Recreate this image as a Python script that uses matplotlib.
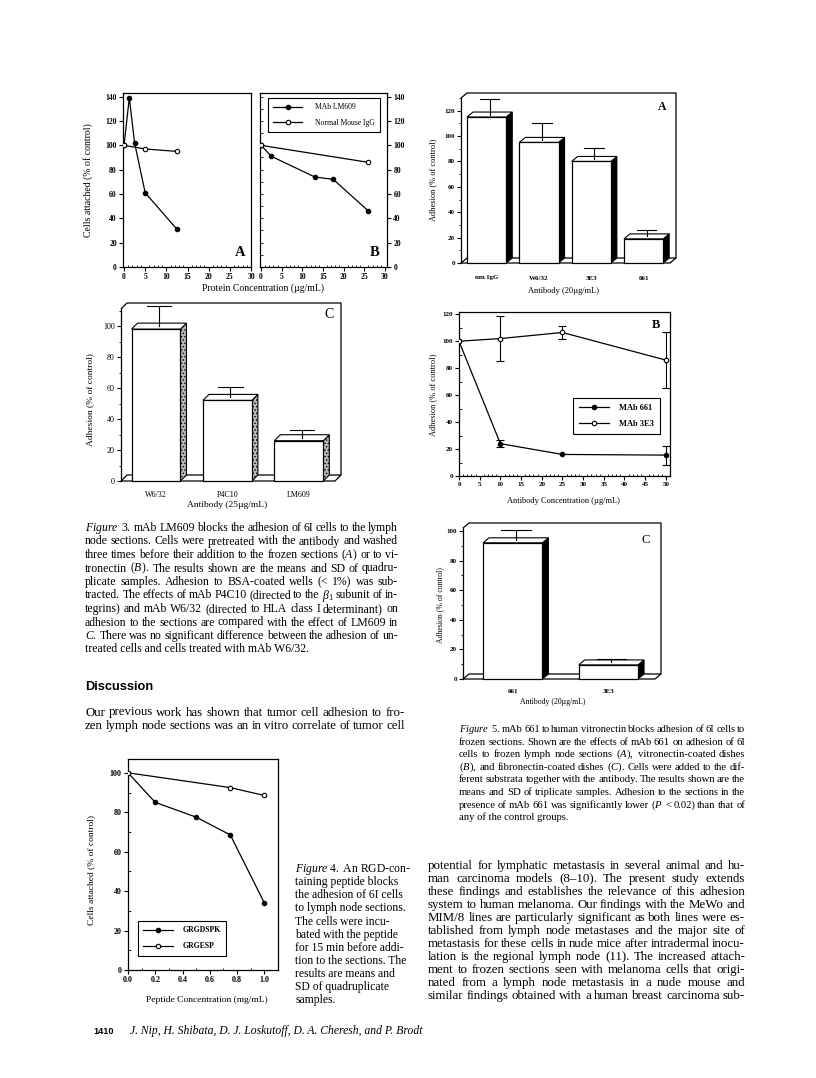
import matplotlib
matplotlib.use("Agg")
import matplotlib.pyplot as plt
import numpy as np
from matplotlib.patches import Polygon, Rectangle
from matplotlib.ticker import MultipleLocator, FormatStrFormatter

W, H = 816, 1078

plt.rcParams["font.family"] = ["Liberation Serif", "DejaVu Serif"]
plt.rcParams["mathtext.fontset"] = "custom"
plt.rcParams["mathtext.rm"] = "Liberation Serif"
plt.rcParams["mathtext.it"] = "Liberation Serif:italic"
plt.rcParams["mathtext.bf"] = "Liberation Serif:bold"
plt.rcParams["hatch.linewidth"] = 0.6

# ---- Figure 3A / 3B: cells attached vs protein concentration
fig3a_conc_lm609 = [0, 1.25, 2.5, 5, 12.5]
fig3a_lm609 = [100, 139, 102, 61, 31]
fig3a_conc_igg = [0, 5, 12.5]
fig3a_igg = [100, 97, 95]
fig3b_conc_lm609 = [0, 2.5, 13, 17.5, 26]
fig3b_lm609 = [100, 91, 74, 72, 46]
fig3b_conc_igg = [0, 26]
fig3b_igg = [100, 86]

# ---- Figure 3C: adhesion bars
fig3c_labels = ["W6/32", "P4C10", "LM609"]
fig3c_mean = [98, 52, 26]
fig3c_sd = [13, 7, 5]

# ---- Figure 5A: adhesion bars
fig5a_labels = ["nm IgG", "W6/32", "3E3", "661"]
fig5a_mean = [115, 95, 80, 19]
fig5a_sd = [12, 13, 9, 5]

# ---- Figure 5B: adhesion vs antibody concentration
fig5b_conc = [0, 10, 25, 50]
fig5b_661 = [100, 24, 16, 15.5]
fig5b_661_sd = [0, 2.5, 0, 7]
fig5b_3e3 = [100, 102, 106.5, 86]
fig5b_3e3_sd = [0, 17, 5, 21]

# ---- Figure 5C: adhesion bars
fig5c_labels = ["661", "3E3"]
fig5c_mean = [92, 9.5]
fig5c_sd = [7, 2.6]

# ---- Figure 4: cells attached vs peptide concentration
fig4_conc_rgd = [0, 0.2, 0.5, 0.75, 1.0]
fig4_rgd = [100, 85, 77.5, 68.5, 34]
fig4_conc_rge = [0, 0.75, 1.0]
fig4_rge = [100, 92.5, 88.5]

fig3_caption = [
    "$\\mathit{Figure}$ $\\mathit{3.}$ mAb LM609 blocks the adhesion of 6I cells to the lymph",
    "node sections. Cells were pretreated with the antibody and washed",
    "three times before their addition to the frozen sections ($\\mathit{A}$) or to vi-",
    "tronectin ($\\mathit{B}$). The results shown are the means and SD of quadru-",
    "plicate samples. Adhesion to BSA-coated wells (< 1%) was sub-",
    "tracted. The effects of mAb P4C10 (directed to the $\\mathit{\\beta}_1$ subunit of in-",
    "tegrins) and mAb W6/32 (directed to HLA class I determinant) on",
    "adhesion to the sections are compared with the effect of LM609 in",
    "$\\mathit{C}$. There was no significant difference between the adhesion of un-",
    "treated cells and cells treated with mAb W6/32.",
]
left_body = [
    "Our previous work has shown that tumor cell adhesion to fro-",
    "zen lymph node sections was an in vitro correlate of tumor cell",
]
fig5_caption = [
    "$\\mathit{Figure}$ $\\mathit{5.}$ mAb 661 to human vitronectin blocks adhesion of 6I cells to",
    "frozen sections. Shown are the effects of mAb 661 on adhesion of 6I",
    "cells to frozen lymph node sections ($\\mathit{A}$), vitronectin-coated dishes",
    "($\\mathit{B}$), and fibronectin-coated dishes ($\\mathit{C}$). Cells were added to the dif-",
    "ferent substrata together with the antibody. The results shown are the",
    "means and SD of triplicate samples. Adhesion to the sections in the",
    "presence of mAb 661 was significantly lower ($\\mathit{P}$ < 0.02) than that of",
    "any of the control groups.",
]
fig4_caption = [
    "$\\mathit{Figure}$ $\\mathit{4.}$ An RGD-con-",
    "taining peptide blocks",
    "the adhesion of 6I cells",
    "to lymph node sections.",
    "The cells were incu-",
    "bated with the peptide",
    "for 15 min before addi-",
    "tion to the sections. The",
    "results are means and",
    "SD of quadruplicate",
    "samples.",
]
right_body = [
    "potential for lymphatic metastasis in several animal and hu-",
    "man carcinoma models (8\u201310). The present study extends",
    "these findings and establishes the relevance of this adhesion",
    "system to human melanoma. Our findings with the MeWo and",
    "MIM/8 lines are particularly significant as both lines were es-",
    "tablished from lymph node metastases and the major site of",
    "metastasis for these cells in nude mice after intradermal inocu-",
    "lation is the regional lymph node (11). The increased attach-",
    "ment to frozen sections seen with melanoma cells that origi-",
    "nated from a lymph node metastasis in a nude mouse and",
    "similar findings obtained with a human breast carcinoma sub-",
]

fig = plt.figure(figsize=(W / 100, H / 100), dpi=100)
renderer = fig.canvas.get_renderer()


def add_axes_px(left, top, right, bottom):
    return fig.add_axes([left / W, 1 - bottom / H, (right - left) / W, (bottom - top) / H])


def fig_text(x, y, s, **kw):
    return fig.text(x / W, 1 - y / H, s, **kw)


def text_block(lines, x0, x1, y0, dy, size, justify=True, last_justified=False, **kw):
    for i, line in enumerate(lines):
        y = y0 + i * dy
        is_last = i == len(lines) - 1
        words = line.split(" ")
        if not justify or (is_last and not last_justified) or len(words) < 2:
            fig_text(x0, y, line, fontsize=size, va="baseline", **kw)
            continue
        fs = size
        texts = [fig_text(0, y, w, fontsize=fs, va="baseline", **kw) for w in words]
        widths = [t.get_window_extent(renderer).width for t in texts]
        gap = (x1 - x0 - sum(widths)) / (len(words) - 1)
        if gap < 1.8:
            fs = size * (x1 - x0 - 1.8 * (len(words) - 1)) / sum(widths)
            for t in texts:
                t.set_fontsize(fs)
            widths = [t.get_window_extent(renderer).width for t in texts]
            gap = (x1 - x0 - sum(widths)) / (len(words) - 1)
        x = x0
        for t, w in zip(texts, widths):
            t.set_x(x / W)
            x += w + gap


def line_style(ax, xmaj, xmin, ymaj, ymin, labelsize=5.5):
    ax.xaxis.set_major_locator(MultipleLocator(xmaj))
    ax.xaxis.set_minor_locator(MultipleLocator(xmin))
    ax.yaxis.set_major_locator(MultipleLocator(ymaj))
    ax.yaxis.set_minor_locator(MultipleLocator(ymin))
    ax.tick_params(which="major", direction="out", length=3, width=0.8,
                   labelsize=labelsize, pad=1.5)
    ax.tick_params(which="minor", direction="in", length=1.8, width=0.6)
    for sp in ax.spines.values():
        sp.set_linewidth(0.9)


def bold_ticks(ax):
    plt.setp(ax.get_xticklabels() + ax.get_yticklabels(), fontweight="bold")


def series(ax, x, y, filled, label=None):
    ax.plot(x, y, "-o", color="black", lw=0.9, ms=3.2,
            mfc="black" if filled else "white", mec="black", mew=0.8,
            label=label, zorder=3)


def legend_px(ax, x, y, size, weight="normal", hl=3.6, tp=1.4):
    leg = ax.legend(loc="upper left", bbox_to_anchor=(x / W, 1 - y / H),
                    bbox_transform=fig.transFigure, frameon=True, fancybox=False,
                    edgecolor="black", framealpha=1, borderaxespad=0,
                    borderpad=0.7, labelspacing=1.0, handlelength=hl,
                    handletextpad=tp, numpoints=1,
                    prop={"size": size, "weight": weight})
    leg.get_frame().set_linewidth(0.8)
    return leg


def bar3d(box, xlim, ylim, depth, labels, means, sds, side, labelsize, bold,
          xpad):
    left, top, right, bottom = box
    ax = add_axes_px(left, top, right, bottom)
    ax.set_xlim(xlim)
    ax.set_ylim(ylim)
    dx = depth[0] * (xlim[1] - xlim[0]) / (right - left)
    dy = depth[1] * (ylim[1] - ylim[0]) / (bottom - top)
    for s in ["top", "right", "bottom"]:
        ax.spines[s].set_visible(False)
    ax.spines["left"].set_linewidth(0.9)
    x0, x1 = xlim
    yt = ylim[1]
    kw = dict(color="black", lw=0.9, clip_on=False, solid_capstyle="butt")
    ax.plot([x0, x0 + dx, x1, x1], [yt, yt + dy, yt + dy, dy], **kw)
    ax.plot([x0, x1 - dx, x1, x0 + dx, x0], [0, 0, dy, dy, 0], **kw)
    pos = np.arange(len(labels))
    width = 0.75 if len(labels) == 4 else (0.685 if len(labels) == 3 else 0.62)
    for p, v, e in zip(pos, means, sds):
        xl, xr = p - width / 2, p + width / 2
        ax.add_patch(Polygon([(xr, 0), (xr + dx, dy), (xr + dx, v + dy), (xr, v)],
                             closed=True, lw=0.8, clip_on=False, zorder=3, **side))
        ax.add_patch(Polygon([(xl, v), (xl + dx, v + dy), (xr + dx, v + dy), (xr, v)],
                             closed=True, fc="white", ec="black", lw=0.8,
                             clip_on=False, zorder=3))
        ax.add_patch(Rectangle((xl, 0), width, v, fc="white", ec="black", lw=0.9,
                               clip_on=False, zorder=4))
        ex = p + dx / 2
        ax.plot([ex, ex], [v + dy / 2, v + dy / 2 + e], color="black", lw=0.8,
                clip_on=False, zorder=5)
        ax.plot([ex - width / 4, ex + width / 4], [v + dy / 2 + e] * 2,
                color="black", lw=0.8, clip_on=False, zorder=5)
    ax.set_xticks(pos, labels)
    ax.tick_params(axis="x", length=0, pad=xpad, labelsize=labelsize)
    ax.yaxis.set_major_locator(MultipleLocator(20))
    ax.yaxis.set_minor_locator(MultipleLocator(10))
    ax.tick_params(axis="y", which="major", direction="out", length=3, width=0.8,
                   labelsize=labelsize, pad=1.5)
    ax.tick_params(axis="y", which="minor", direction="out", length=1.5, width=0.6)
    if bold:
        bold_ticks(ax)
    return ax


# ================= Figure 3A =================
ax = add_axes_px(123, 93, 251, 267)
series(ax, fig3a_conc_lm609, fig3a_lm609, True)
series(ax, fig3a_conc_igg, fig3a_igg, False)
ax.set_xlim(-0.24, 30)
ax.set_ylim(0, 143)
line_style(ax, 5, 1, 20, 10)
ax.tick_params(axis="y", which="minor", left=False)
bold_ticks(ax)
fig_text(240, 253, "A", fontsize=10.5, fontweight="bold", ha="center", va="center")

# ================= Figure 3B =================
ax = add_axes_px(260, 93, 387, 267)
series(ax, fig3b_conc_lm609, fig3b_lm609, True, "MAb LM609")
series(ax, fig3b_conc_igg, fig3b_igg, False, "Normal Mouse IgG")
ax.set_xlim(-0.24, 30.5)
ax.set_ylim(0, 143)
line_style(ax, 5, 1, 20, 10)
ax.yaxis.set_remove_overlapping_locs(False)
ax.tick_params(axis="y", which="major", left=False, right=True,
               labelleft=False, labelright=True)
ax.tick_params(axis="y", which="minor", left=True, right=False, length=2)
bold_ticks(ax)
legend_px(ax, 268, 98, 5.5, hl=3.8, tp=1.6)
fig_text(375, 253, "B", fontsize=10.5, fontweight="bold", ha="center", va="center")

fig_text(88, 180, "Cells attached (% of control)", fontsize=7, rotation=90,
         ha="center", va="center")
fig_text(263, 288, "Protein Concentration (\u00b5g/mL)", fontsize=7,
         ha="center", va="center")

# ================= Figure 5A =================
ax = bar3d((461, 98, 676, 263), (-0.49, 3.62), (0, 130), (6, 5),
           fig5a_labels, fig5a_mean, fig5a_sd,
           dict(fc="black", ec="black"), 5, True, 9)
fig_text(662, 107, "A", fontsize=8.5, fontweight="bold", ha="center", va="center")
fig_text(433, 180, "Adhesion (% of control)", fontsize=6, rotation=90,
         ha="center", va="center")
fig_text(563, 291, "Antibody (20\u00b5g/mL)", fontsize=6, ha="center", va="center")

# ================= Figure 3C =================
ax = bar3d((121, 309, 341, 481), (-0.49, 2.59), (0, 111), (6, 6),
           fig3c_labels, fig3c_mean, fig3c_sd,
           dict(fc="#b8b8b8", ec="black", hatch="....."), 5.8, False, 7)
fig_text(329, 315, "C", fontsize=10, ha="center", va="center")
fig_text(90, 400, "Adhesion (% of control)", fontsize=6.8, rotation=90,
         ha="center", va="center")
fig_text(227, 505, "Antibody (25\u00b5g/mL)", fontsize=6.8, ha="center", va="center")

# ================= Figure 5B =================
ax = add_axes_px(459, 312, 670, 476)
b661 = np.array(fig5b_661_sd) > 0
b3e3 = np.array(fig5b_3e3_sd) > 0
series(ax, fig5b_conc, fig5b_661, True, "MAb 661")
series(ax, fig5b_conc, fig5b_3e3, False, "MAb 3E3")
ax.errorbar(np.array(fig5b_conc)[b661], np.array(fig5b_661)[b661],
            yerr=np.array(fig5b_661_sd)[b661], fmt="none", ecolor="black",
            elinewidth=0.8, capsize=2.8, capthick=0.8, zorder=2)
ax.errorbar(np.array(fig5b_conc)[b3e3], np.array(fig5b_3e3)[b3e3],
            yerr=np.array(fig5b_3e3_sd)[b3e3], fmt="none", ecolor="black",
            elinewidth=0.8, capsize=2.8, capthick=0.8, zorder=2)
ax.set_xlim(0, 51)
ax.set_ylim(0, 121.7)
line_style(ax, 5, 1, 20, 10, labelsize=5)
bold_ticks(ax)
legend_px(ax, 573, 398, 6, weight="bold", hl=3.6, tp=1.2)
fig_text(656, 325, "B", fontsize=9, fontweight="bold", ha="center", va="center")
fig_text(433, 395, "Adhesion (% of control)", fontsize=6, rotation=90,
         ha="center", va="center")
fig_text(563, 501, "Antibody Concentration (\u00b5g/mL)", fontsize=6,
         ha="center", va="center")

# ================= Figure 5C =================
ax = bar3d((463, 528, 661, 679), (-0.52, 1.55), (0, 102), (6, 5),
           fig5c_labels, fig5c_mean, fig5c_sd,
           dict(fc="black", ec="black"), 5, True, 7)
fig_text(646, 540, "C", fontsize=9, ha="center", va="center")
fig_text(440, 605, "Adhesion (% of control)", fontsize=5.6, rotation=90,
         ha="center", va="center")
fig_text(553, 702, "Antibody (20\u00b5g/mL)", fontsize=5.6, ha="center", va="center")

# ================= Figure 4 =================
ax = add_axes_px(128, 759, 278, 970)
series(ax, fig4_conc_rgd, fig4_rgd, True, "GRGDSPK")
series(ax, fig4_conc_rge, fig4_rge, False, "GRGESP")
ax.set_xlim(0, 1.1)
ax.set_ylim(0, 107)
line_style(ax, 0.2, 0.1, 20, 10, labelsize=5.8)
ax.xaxis.set_major_formatter(FormatStrFormatter("%.1f"))
bold_ticks(ax)
legend_px(ax, 138, 921, 5.6, weight="bold", hl=3.8, tp=1.2)
fig_text(91, 870, "Cells attached (% of control)", fontsize=6.8, rotation=90,
         ha="center", va="center")
fig_text(207, 1000, "Peptide Concentration (mg/mL)", fontsize=6.8,
         ha="center", va="center")

# ================= page text =================
text_block(fig3_caption, 85, 398, 531, 13.5, 8.5)
fig_text(85, 690, "Discussion", fontsize=9.2, fontweight="bold",
         family=["Liberation Sans", "DejaVu Sans"], va="baseline")
text_block(left_body, 85, 405, 715.5, 13.4, 9.3, last_justified=True)
text_block(fig5_caption, 459, 745, 732, 12.6, 7.7)
text_block(right_body, 428, 745, 869, 13.0, 9.3, last_justified=True)
text_block(fig4_caption, 295, 410, 872, 13.15, 8.4, justify=False)
fig_text(93, 1034, "1410", fontsize=6.6, fontweight="bold",
         family=["Liberation Sans", "DejaVu Sans"], va="baseline")
fig_text(130, 1034, "J. Nip, H. Shibata, D. J. Loskutoff, D. A. Cheresh, and P. Brodt",
         fontsize=8.4, style="italic", va="baseline")

fig.savefig("out.png", dpi=100)
